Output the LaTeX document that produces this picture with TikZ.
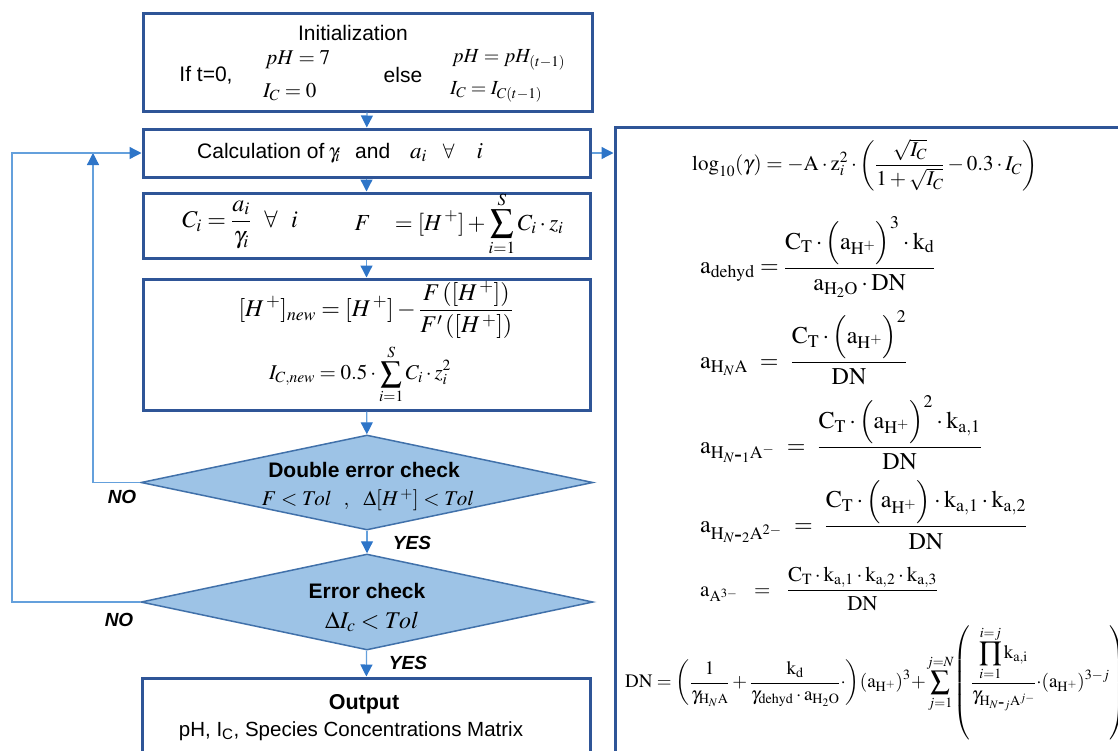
\documentclass[tikz,border=0pt]{standalone}
\usepackage{amsmath}
\usepackage{mathptmx}
\usepackage[no-math]{fontspec}
\setmainfont{Liberation Sans}
\usetikzlibrary{arrows.meta,shapes.geometric}
\definecolor{boxblue}{RGB}{47,85,151}
\definecolor{linblue}{RGB}{100,160,220}
\definecolor{arrblue}{RGB}{46,117,200}
\definecolor{diafill}{RGB}{157,195,230}
\definecolor{diaborder}{RGB}{65,113,170}
\tikzset{
  flowbox/.style={draw=boxblue,line width=3pt,rectangle,inner sep=0pt},
  decide/.style={draw=diaborder,fill=diafill,line width=1.5pt,diamond,inner sep=0pt,minimum width=452pt,minimum height=95pt},
  conn/.style={draw=linblue,line width=1.3pt,-{Triangle[length=12pt,width=12pt,color=arrblue]}},
  ttext/.style={font=\fontsize{21}{25}\selectfont,inner sep=0pt},
  mtext/.style={font=\fontsize{20}{24}\selectfont,inner sep=0pt},
  rtext/.style={font=\fontsize{24}{28}\selectfont,inner sep=0pt,anchor=west},
  yn/.style={font=\fontsize{19}{23}\selectfont\bfseries\itshape,inner sep=0pt},
}
\newcommand{\mhy}{\mbox{-}}
\begin{document}
\begin{tikzpicture}[x=1pt,y=-1pt]
\useasboundingbox (0,0) rectangle (1118,750);
% boxes
\node[flowbox,minimum width=449pt,minimum height=98pt] (init) at (367.5,62) {};
\node[flowbox,minimum width=447pt,minimum height=48pt] (calc) at (366.5,153) {};
\node[flowbox,minimum width=447pt,minimum height=65pt] (conc) at (366.5,225.5) {};
\node[flowbox,minimum width=447pt,minimum height=131pt] (newton) at (366.5,344.5) {};
\node[decide] (d1) at (367,482.5) {};
\node[decide,minimum height=96pt] (d2) at (367,602) {};
\node[flowbox,minimum width=448pt,minimum height=84pt] (out) at (366,720) {};
\node[flowbox,minimum width=520pt,minimum height=643pt] (rb) at (875,448.5) {};
% init texts
\node[ttext] (tinit) at (353,33) {Initialization};
\node[ttext] (tif) at (206,75) {If t=0,};
\node[mtext,anchor=west,font=\fontsize{21}{25}\selectfont] (tph0) at (265,60) {$pH = 7$};
\node[mtext,anchor=west,font=\fontsize{21}{25}\selectfont] (tic0) at (263,92) {$I_C = 0$};
\node[ttext] (telse) at (403,75) {else};
\node[mtext,anchor=west] (tph1) at (452,60) {$pH = pH_{(t-1)}$};
\node[mtext,anchor=west] (tic1) at (450,92) {$I_C = I_{C(t-1)}$};
% calc text
\node[ttext,anchor=west] (tcalc) at (197,153) {Calculation of\hspace{4pt}$\gamma_{\!i}$\hspace{15pt}and\hspace{20pt}{\fontsize{23}{27}\selectfont$a_i$}\hspace{16pt}$\forall$\hspace{22pt}{\fontsize{23}{27}\selectfont$i$}};
% conc texts
\node[mtext,font=\fontsize{24}{28}\selectfont] (tci) at (240,225) {$\displaystyle C_i = \frac{a_i}{\gamma_i}\ \ \forall\ \ i$};
\node[mtext,font=\fontsize{23}{27}\selectfont] (tf) at (459,224) {$\displaystyle F\ \ \ = [H^{\,+}] + \sum_{i=1}^{S} C_i\cdot z_i$};
% newton texts
\node[mtext,font=\fontsize{24}{28}\selectfont] (tnw1) at (376,310) {$\displaystyle [H^{\,+}]_{new} = [H^{\,+}] - \frac{F\left([H^{\,+}]\right)}{F'\left([H^{\,+}]\right)}$};
\node[mtext,font=\fontsize{21}{25}\selectfont] (tnw2) at (360,374) {$\displaystyle I_{C,new} = 0.5\cdot\sum_{i=1}^{S} C_i\cdot z_i^2$};
% diamonds texts
\node[ttext,font=\fontsize{21}{25}\selectfont\bfseries] (td1) at (364,470) {Double error check};
\node[mtext,font=\fontsize{21}{25}\selectfont] (td1m) at (368,500) {$F < Tol\ \ ,\ \ \Delta[H^{\,+}] < Tol$};
\node[ttext,font=\fontsize{21}{25}\selectfont\bfseries] (td2) at (367,591) {Error check};
\node[mtext,font=\fontsize{24}{28}\selectfont] (td2m) at (372,622) {$\Delta I_c < Tol$};
% output texts
\node[ttext,font=\fontsize{21.5}{25}\selectfont\bfseries] (tout) at (364,704) {Output};
\node[ttext,font=\fontsize{20.5}{24}\selectfont] (tout2) at (351,731) {pH, I\textsubscript{C}, Species Concentrations Matrix};
% yes / no
\node[yn] (no1) at (122,497) {NO};
\node[yn] (yes1) at (412,543) {YES};
\node[yn] (no2) at (119,620) {NO};
\node[yn] (yes2) at (408,663) {YES};
% connectors
\draw[conn] (init) -- (calc);
\draw[conn] (calc) -- (conc);
\draw[conn] (conc) -- (newton);
\draw[conn] (newton) -- (d1);
\draw[conn] (d1) -- (d2);
\draw[conn] (d2) -- (out);
\coordinate (innerTop) at (93,153);
\coordinate (outerX) at (12,0);
\draw[conn] (d1.west) -| (innerTop);
\draw[conn] (d2.west) -- (d2.west -| outerX) |- (calc.west);
\draw[conn] (calc.east) -- (calc.east -| rb.west);
% right box equations
\node[rtext,font=\fontsize{21}{25}\selectfont] (e1) at (692,165) {$\displaystyle \log_{10}(\gamma) = -\mathrm{A}\cdot \mathrm{z}_i^2\cdot\left(\frac{\sqrt{I_C}}{1+\sqrt{I_C}} - 0.3\cdot I_C\right)$};
\node[rtext] (e2) at (700,257) {$\displaystyle \mathrm{a}_{\mathrm{dehyd}} = \frac{\mathrm{C_T}\cdot\Bigl(\mathrm{a}_{\mathrm{H^+}}\Bigr)^3\cdot \mathrm{k_d}}{\mathrm{a}_{\mathrm{H_2O}}\cdot\mathrm{DN}}$};
\node[rtext] (e3) at (700,348) {$\displaystyle \mathrm{a}_{\mathrm{H}_N\mathrm{A}}\ = \ \frac{\mathrm{C_T}\cdot\Bigl(\mathrm{a}_{\mathrm{H^+}}\Bigr)^2}{\mathrm{DN}}$};
\node[rtext] (e4) at (700,433) {$\displaystyle \mathrm{a}_{\mathrm{H}_{N\mhy1}\mathrm{A}^-}\ = \ \frac{\mathrm{C_T}\cdot\Bigl(\mathrm{a}_{\mathrm{H^+}}\Bigr)^2\cdot\mathrm{k}_{\mathrm{a,1}}}{\mathrm{DN}}$};
\node[rtext] (e5) at (700,515) {$\displaystyle \mathrm{a}_{\mathrm{H}_{N\mhy2}\mathrm{A}^{2-}}\ = \ \frac{\mathrm{C_T}\cdot\Bigl(\mathrm{a}_{\mathrm{H^+}}\Bigr)\cdot\mathrm{k}_{\mathrm{a,1}}\cdot\mathrm{k}_{\mathrm{a,2}}}{\mathrm{DN}}$};
\node[rtext,font=\fontsize{21}{25}\selectfont] (e6) at (700,589) {$\displaystyle \mathrm{a}_{\mathrm{A}^{3-}}\ \ = \ \ \frac{\mathrm{C_T}\cdot\mathrm{k}_{\mathrm{a,1}}\cdot\mathrm{k}_{\mathrm{a,2}}\cdot\mathrm{k}_{\mathrm{a,3}}}{\mathrm{DN}}$};
\node[rtext,font=\fontsize{19}{23}\selectfont] (e7) at (625,683) {$\displaystyle \mathrm{DN} = \left(\frac{1}{\gamma_{\mathrm{H}_N\mathrm{A}}} + \frac{\mathrm{k_d}}{\gamma_{\mathrm{dehyd}}\cdot\mathrm{a}_{\mathrm{H_2O}}}{\cdot}\right)\!(\mathrm{a}_{\mathrm{H^+}})^{3}\!+\!\sum_{j=1}^{j=N}\!\left(\frac{\displaystyle\prod_{i=1}^{i=j}\mathrm{k}_{\mathrm{a,i}}}{\gamma_{\mathrm{H}_{N\mhy j}\mathrm{A}^{j-}}}{\cdot}(\mathrm{a}_{\mathrm{H^+}})^{3-j}\right)$};
\end{tikzpicture}
\end{document}
